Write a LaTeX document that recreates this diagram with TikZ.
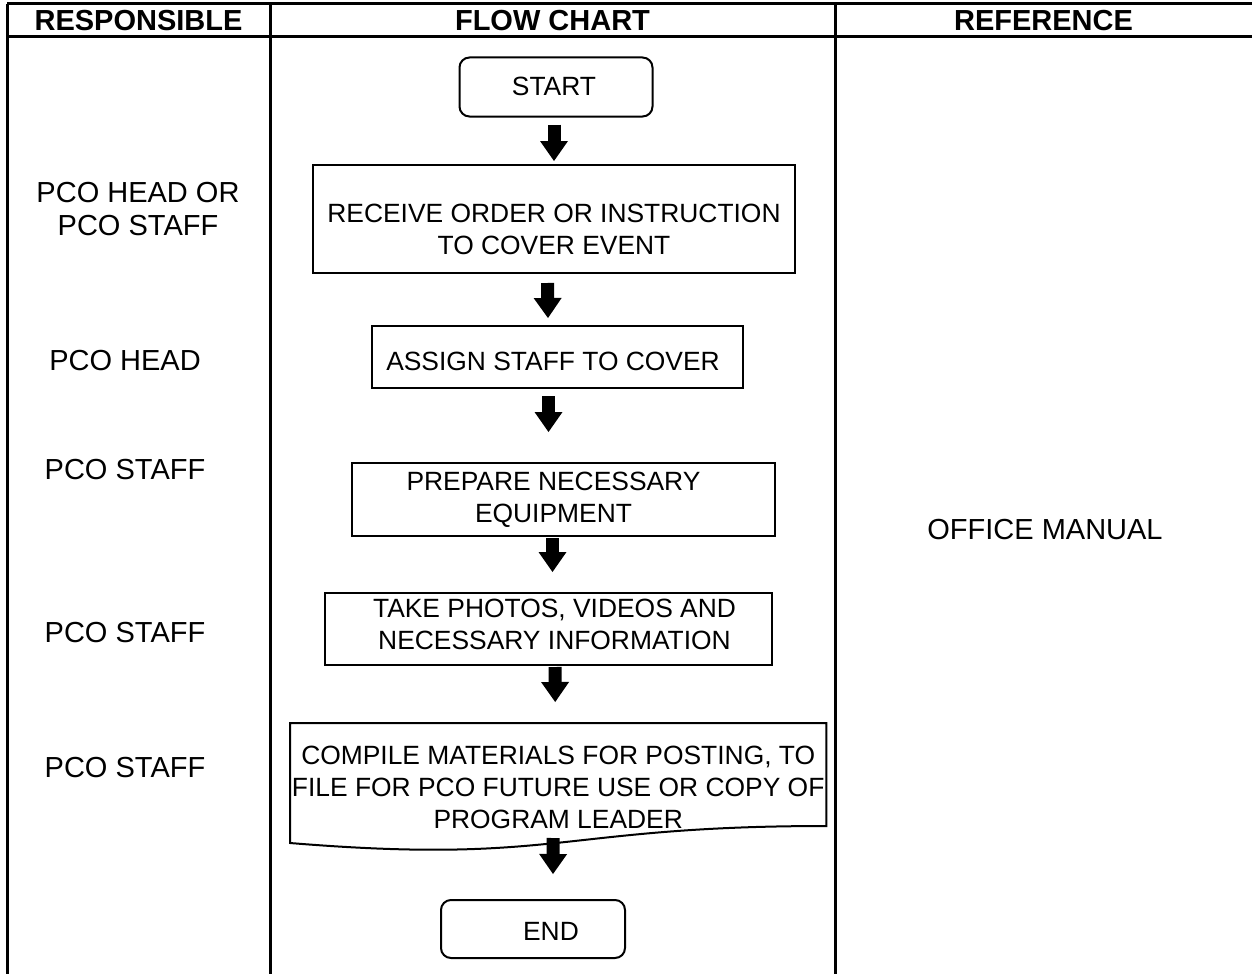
\documentclass[tikz,border=0pt]{standalone}
\usepackage{fontspec}
\setmainfont{Liberation Sans}
\usetikzlibrary{arrows.meta,calc}

\begin{document}
\begin{tikzpicture}[x=1pt,y=-1pt,
  rule/.style={line width=3pt},
  headtxt/.style={font=\fontsize{29}{33}\selectfont\bfseries, inner sep=0pt},
  whotxt/.style={font=\fontsize{29}{33}\selectfont, align=center, inner sep=0pt},
  flowtxt/.style={font=\fontsize{26.4}{32}\selectfont, align=center, inner sep=0pt},
  box/.style={draw, line width=2pt, inner sep=0pt},
  term/.style={box, rounded corners=10pt},
  blk/.style={line width=13pt, -{Triangle[width=28pt,length=20pt,line width=0pt]}},
]
\useasboundingbox (0,0) rectangle (1252,974);

% table grid
\draw[rule] (7,4) -- (1252,4);
\draw[rule] (7,37) -- (1252,37);
\draw[rule] (7,4) -- (7,974);
\draw[rule] (270,4) -- (270,974);
\draw[rule] (835,4) -- (835,974);

% column headings
\node[headtxt] (h1) at (138.5,21) {RESPONSIBLE};
\node[headtxt] (h2) at (552.5,21) {FLOW CHART};
\node[headtxt] (h3) at (1043.5,21) {REFERENCE};

% responsible parties
\node[whotxt] (r1) at (138,209) {PCO HEAD OR\\PCO STAFF};
\node[whotxt] (r2) at (125,361) {PCO HEAD};
\node[whotxt] (r3) at (125,470) {PCO STAFF};
\node[whotxt] (r4) at (125,633) {PCO STAFF};
\node[whotxt] (r5) at (125,768) {PCO STAFF};

% reference
\node[whotxt] (ref) at (1045,530) {OFFICE MANUAL};

% flow chart steps
\node[term, minimum width=193pt, minimum height=59pt,
  label={[flowtxt, xshift=-2pt, yshift=1pt]center:START}] (start) at (556,87) {};
\node[box, minimum width=482pt, minimum height=108pt,
  label={[flowtxt, yshift=-10pt]center:{RECEIVE ORDER OR INSTRUCTION\\TO COVER EVENT}}] (b2) at (554,219) {};
\node[box, minimum width=371pt, minimum height=62pt,
  label={[flowtxt, xshift=-4.5pt, yshift=-4pt]center:{ASSIGN STAFF TO COVER}}] (b3) at (557.5,357) {};
\node[box, minimum width=423pt, minimum height=73pt,
  label={[flowtxt, xshift=-10pt]center:{PREPARE NECESSARY\\EQUIPMENT}}] (b4) at (563.5,499.5) {};
\node[box, minimum width=447pt, minimum height=72pt,
  label={[flowtxt, xshift=6pt, yshift=5pt]center:{TAKE PHOTOS, VIDEOS AND\\NECESSARY INFORMATION}}] (b5) at (548.5,629) {};
\node[flowtxt, minimum width=536pt, minimum height=128pt, anchor=north west] (b6) at (290,723)
  {COMPILE MATERIALS FOR POSTING, TO\\FILE FOR PCO FUTURE USE OR COPY OF\\PROGRAM LEADER};
\draw[line width=2pt, line join=miter]
  (b6.north west) -- (b6.north east) -- ($(b6.north east)+(0,103)$)
  .. controls ($(b6.north)+(0,103)$) and ($(b6.north)+(0,142)$) .. ($(b6.north west)+(0,120)$)
  -- cycle;
\node[term, minimum width=184pt, minimum height=58pt,
  label={[flowtxt, xshift=18pt, yshift=-2pt]center:END}] (end) at (533,929) {};

% block arrows between the steps
\draw[blk] ([xshift=-2pt,yshift=-7pt]start.south) -- ([yshift=3pt]b2.north);
\draw[blk] ([xshift=-6.5pt,yshift=-9pt]b2.south) -- ([xshift=-9.5pt,yshift=7pt]b3.north);
\draw[blk] ([xshift=-9pt,yshift=-7pt]b3.south) -- ([xshift=-15pt,yshift=30pt]b4.north);
\draw[blk] ([xshift=-11pt,yshift=-1pt]b4.south) -- ([xshift=4pt,yshift=20pt]b5.north);
\draw[blk] ([xshift=6.5pt,yshift=-1pt]b5.south) -- ([xshift=-3pt,yshift=21pt]b6.north);
\draw[blk] ([xshift=-5pt,yshift=-115pt]b6.north) -- ([xshift=20pt,yshift=25pt]end.north);
\end{tikzpicture}
\end{document}
